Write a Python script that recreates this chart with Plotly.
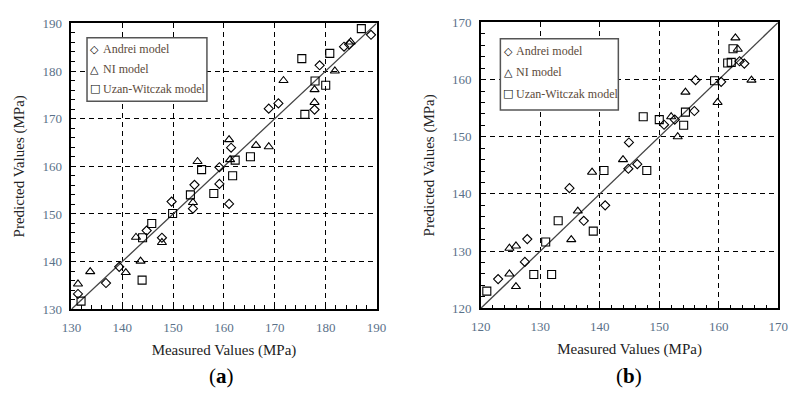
import plotly.graph_objects as go

# ---- panel (a) ----
a_range = [130, 190]
a_ticks = [130, 140, 150, 160, 170, 180, 190]

a_andrei_x = [131.3, 136.8, 139.4, 144.8, 147.8, 149.7, 154.2, 153.9, 159.1, 161.0,
              159.1, 161.4, 168.8, 170.7, 177.8, 178.8, 183.6, 184.6, 188.9]
a_andrei_y = [133.2, 135.5, 138.9, 146.5, 145.0, 152.6, 156.1, 151.1, 156.3, 152.1,
              159.8, 163.9, 172.1, 173.2, 171.9, 181.2, 185.1, 185.6, 187.6]

a_ni_x = [131.3, 133.7, 140.7, 143.6, 142.7, 147.8, 153.9, 154.8, 161.0, 161.2,
          166.3, 168.8, 171.7, 177.8, 177.8, 181.8, 184.9]
a_ni_y = [135.3, 137.9, 137.7, 140.1, 145.1, 144.0, 152.4, 161.0, 165.6, 161.4,
          164.4, 164.1, 178.0, 173.4, 176.1, 180.0, 186.1]

a_uw_x = [131.9, 143.9, 144.0, 145.8, 149.9, 153.4, 155.6, 158.0, 161.7, 162.2,
          165.2, 175.3, 175.9, 177.9, 180.0, 180.8, 187.0]
a_uw_y = [131.7, 136.1, 145.0, 148.0, 150.1, 154.0, 159.3, 154.3, 158.0, 161.3,
          162.0, 182.6, 170.9, 177.9, 177.0, 183.7, 188.9]

# ---- panel (b) ----
b_range = [120, 170]
b_ticks = [120, 130, 140, 150, 160, 170]

b_andrei_x = [122.9, 127.4, 127.8, 134.9, 137.3, 140.9, 144.9, 144.8, 146.3, 150.8,
              152.6, 155.9, 156.1, 160.4, 163.5, 164.3]
b_andrei_y = [125.1, 128.1, 132.1, 141.0, 135.3, 138.0, 149.0, 144.4, 145.2, 152.1,
              153.0, 154.5, 159.9, 159.6, 163.2, 162.8]

b_ni_x = [124.8, 124.8, 125.9, 125.9, 135.2, 136.3, 138.7, 143.9, 152.0, 153.1,
          154.4, 159.8, 165.5, 163.2, 162.8]
b_ni_y = [126.0, 130.5, 130.9, 123.8, 132.0, 137.0, 143.8, 146.0, 153.5, 150.0,
          157.8, 156.0, 159.9, 165.3, 167.3]

b_uw_x = [121.0, 128.9, 130.9, 131.9, 133.0, 138.9, 140.7, 147.9, 147.3, 150.0,
          154.1, 154.4, 159.3, 161.5, 162.1, 162.4]
b_uw_y = [123.0, 125.9, 131.6, 125.9, 135.3, 133.5, 144.1, 144.1, 153.5, 153.0,
          152.0, 154.3, 159.8, 162.9, 163.0, 165.4]

series_names = ["Andrei model", "NI model", "Uzan-Witczak model"]
symbols = ["diamond-open", "triangle-up-open", "square-open"]
legend_glyphs = ["\u25C7", "\u25B3", "\u25A1"]
sizes = [7, 8, 8]

W, H = 797, 400
SERIF = "Liberation Serif"
GLYPH_FONT = "DejaVu Sans"
TICK_COLOR = "#5a7189"
TEXT_COLOR = "#222222"
LEGEND_TEXT = "#5b4a3a"

fig = go.Figure()

panels = [
    ("x", "y", a_range,
     [(a_andrei_x, a_andrei_y), (a_ni_x, a_ni_y), (a_uw_x, a_uw_y)]),
    ("x2", "y2", b_range,
     [(b_andrei_x, b_andrei_y), (b_ni_x, b_ni_y), (b_uw_x, b_uw_y)]),
]

for xa, ya, rng, data in panels:
    # 1:1 reference line across the axis range
    fig.add_trace(go.Scatter(
        x=rng, y=rng, mode="lines", xaxis=xa, yaxis=ya,
        line=dict(color="#444444", width=1.3), showlegend=False,
        hoverinfo="skip"))
    for (xs, ys), name, sym, sz in zip(data, series_names, symbols, sizes):
        fig.add_trace(go.Scatter(
            x=xs, y=ys, mode="markers", name=name, xaxis=xa, yaxis=ya,
            showlegend=False,
            marker=dict(symbol=sym, size=sz, color="black",
                        line=dict(color="black", width=1.1))))

def axis_style(rng, ticks, domain, anchor, title, standoff):
    return dict(
        domain=domain, anchor=anchor, range=rng, tickvals=ticks,
        showline=True, linecolor="black", linewidth=1.5, mirror=True,
        ticks="inside", ticklen=5, tickcolor="black", tickwidth=1,
        ticklabelstandoff=5,
        minor=dict(ticks="inside", ticklen=4, dtick=2, tickcolor="black",
                   showgrid=False),
        showgrid=True, gridcolor="black", gridwidth=1, griddash="5px,4px",
        zeroline=False,
        tickfont=dict(family=SERIF, size=13, color=TICK_COLOR),
        title=dict(text=title, font=dict(family=SERIF, size=15, color=TEXT_COLOR),
                   standoff=standoff),
    )

# Boxed legend for each panel: (left, top, right, bottom, row spacing) in px
legend_boxes = [(79, 32, 202, 98, 20.5), (503, 33, 624, 107, 22)]
shapes = []
annotations = []
for left, top, right, bottom, step in legend_boxes:
    shapes.append(dict(type="rect", xref="paper", yref="paper",
                       x0=left / W, x1=right / W, y0=1 - bottom / H, y1=1 - top / H,
                       line=dict(color="#555555", width=1.5), fillcolor="white",
                       layer="above"))
    first = top + 12 + (step - 20.5) * 0.6
    for i, (glyph, name) in enumerate(zip(legend_glyphs, series_names)):
        yc = 1 - (first + i * step) / H
        annotations.append(dict(
            text=glyph, x=(left + 8) / W, y=yc, xref="paper", yref="paper",
            xanchor="center", yanchor="middle", showarrow=False,
            font=dict(family=GLYPH_FONT, size=11, color="black")))
        annotations.append(dict(
            text=name, x=(left + 14) / W, y=yc, xref="paper", yref="paper",
            xanchor="left", yanchor="middle", showarrow=False,
            font=dict(family=SERIF, size=12, color=LEGEND_TEXT)))

annotations += [
    dict(text="(<b>a</b>)", x=0.2725, y=0.0425, xref="paper", yref="paper",
         xanchor="center", yanchor="middle", showarrow=False,
         font=dict(family=SERIF, size=21, color="black")),
    dict(text="(<b>b</b>)", x=0.797, y=0.0425, xref="paper", yref="paper",
         xanchor="center", yanchor="middle", showarrow=False,
         font=dict(family=SERIF, size=21, color="black")),
]

fig.update_layout(
    width=W, height=H,
    margin=dict(l=0, r=0, t=0, b=0),
    paper_bgcolor="white", plot_bgcolor="white",
    showlegend=False,
    xaxis=axis_style(a_range, a_ticks, [0.079, 0.4718], "y",
                     "Measured Values (MPa)", 11),
    yaxis=axis_style(a_range, a_ticks, [0.215, 0.9575], "x",
                     "Predicted Values (MPa)", 14),
    xaxis2=axis_style(b_range, b_ticks, [0.606, 0.9887], "y2",
                      "Measured Values (MPa)", 11),
    yaxis2=axis_style(b_range, b_ticks, [0.2175, 0.96], "x2",
                      "Predicted Values (MPa)", 14),
    shapes=shapes,
    annotations=annotations,
)

fig.write_html("out.html")
